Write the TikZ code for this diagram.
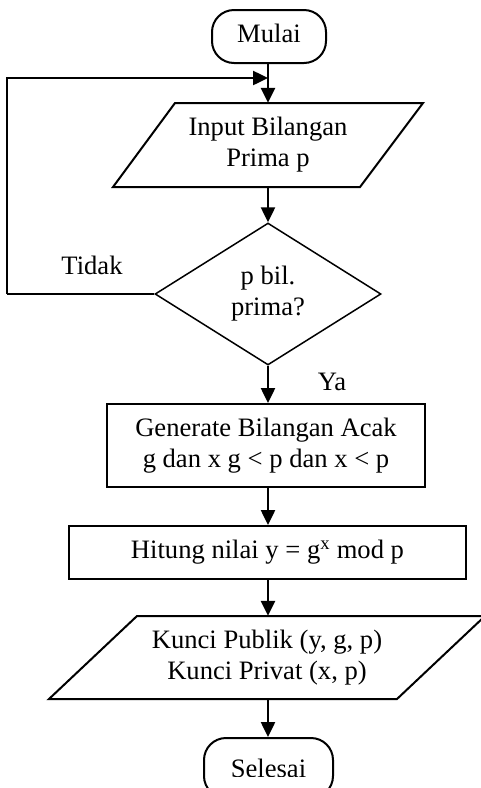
\documentclass[tikz,border=0pt]{standalone}
\usepackage{fontspec}
\setmainfont{Liberation Serif}
\usetikzlibrary{shapes.geometric,arrows.meta}
\begin{document}
\begin{tikzpicture}[x=1pt,y=-1pt,
  every node/.style={font=\fontsize{26.6}{31}\selectfont, align=center, inner sep=0pt},
  terminal/.style={draw, line width=2pt, rounded corners=22pt, minimum height=53pt},
  procbox/.style={draw, line width=2pt, rectangle},
  iobox/.style={rectangle, draw=none},
  decision/.style={draw, line width=1.5pt, diamond},
  flow/.style={line width=2.5pt, -{Triangle[length=15pt,width=14pt]}},
  plain/.style={line width=2pt}]
\useasboundingbox (0,0) rectangle (481,788);

% start
\node[terminal, minimum width=114pt] (start) at (269,36.5) {};
\node (startlbl) at ([yshift=3pt]start.center) {Mulai};

% input of the prime p
\node[iobox, minimum width=248pt, minimum height=84pt] (in) at (268,145) {Input Bilangan\\Prima p};
\draw[line width=2pt] (175,103) -- (423,103) -- (360,187) -- (113,187) -- cycle;

% primality check
\node[decision, minimum width=226pt, minimum height=142pt] (dec) at (268,294) {p bil.\\prima?};

% random numbers
\node[procbox, minimum width=318pt, minimum height=83pt] (gen) at (266,445.5) {Generate Bilangan Acak\\g dan x g {<} p dan x {<} p};

% compute y
\node[procbox, minimum width=397pt, minimum height=53pt] (calc) at (267.5,552.5) {Hitung nilai y = g\textsuperscript{x} mod p};

% output of the keys
\node[iobox, minimum width=348pt, minimum height=83pt] (out) at (267,657.5) {Kunci Publik (y, g, p)\\Kunci Privat (x, p)};
\draw[line width=2pt] (137,616) -- (485,616) -- (397,699) -- (49,699) -- cycle;

% end, its label cut off along the lower edge
\node[terminal, minimum width=129pt, minimum height=60pt] (stop) at (268.5,768) {};
\begin{scope}
  \clip (150,730) rectangle (390,776);
  \node (stoplbl) at (268.5,768) {Selesai};
\end{scope}

% labels
\node (tidak) at (92,265) {Tidak};
\node (ya) at (332,382) {Ya};

% connectors
\coordinate (fb) at (268,78);
\coordinate (bl) at (7,294);
\coordinate (tl) at (7,78);
\draw[flow] (start.south -| in.north) -- (in.north);
\draw[flow] (in.south) -- (dec.north);
\draw[flow] (dec.south) -- (gen.north -| dec.south);
\draw[flow] (gen.south -| dec.south) -- (calc.north -| dec.south);
\draw[flow] (calc.south -| dec.south) -- (out.north -| dec.south);
\draw[flow] (out.south -| dec.south) -- (stop.north -| dec.south);
\draw[line width=1.5pt] (dec.west) -- (bl);
\draw[line width=2pt] (bl) -- (tl);
\draw[flow] ([xshift=-1pt]tl) -- (fb);
\end{tikzpicture}
\end{document}
